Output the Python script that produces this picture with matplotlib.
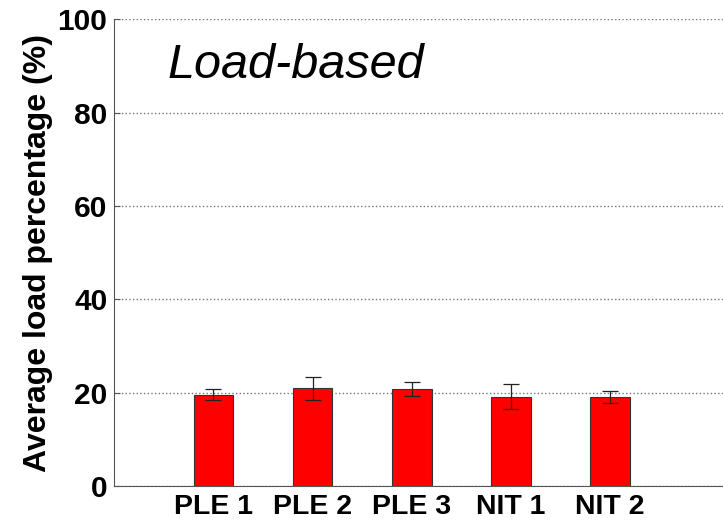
import numpy as np
import matplotlib.pyplot as plt

plt.rcParams['font.family'] = ['Liberation Sans', 'DejaVu Sans']

labels = ['PLE 1', 'PLE 2', 'PLE 3', 'NIT 1', 'NIT 2']
load_mean = [19.6, 20.9, 20.7, 19.1, 19.1]
load_err = [1.1, 2.4, 1.5, 2.7, 1.3]

fig = plt.figure(figsize=(7.23, 5.24), dpi=100)
ax = fig.add_axes([0.158, 0.0725, 0.842, 0.891])

ind = np.arange(1, len(labels) + 1)
ax.bar(ind, load_mean, 0.4, color='#ff0000', edgecolor='#333333', linewidth=0.8, zorder=3)
ax.errorbar(ind, load_mean, yerr=load_err, fmt='none', ecolor='#222222',
            elinewidth=0.9, capsize=6, capthick=0.9, zorder=4)

ax.set_xlim(0, 6.14)
ax.set_ylim(0, 100)
ax.set_yticks([0, 20, 40, 60, 80, 100])
ax.set_xticks(ind)
ax.set_xticklabels(labels, fontsize=20.5, fontweight='bold')
ax.tick_params(axis='y', labelsize=21.5, direction='in', length=4, pad=5, color='#555555')
ax.tick_params(axis='x', length=0, pad=6)
for t in ax.get_yticklabels():
    t.set_fontweight('bold')

ax.set_ylabel('Average load percentage (%)', fontsize=23, fontweight='bold', labelpad=3)
ax.grid(axis='y', linestyle=':', color='#777777', linewidth=1.0, zorder=0)

ax.spines['top'].set_visible(False)
ax.spines['right'].set_visible(False)
ax.spines['left'].set_color('#555555')
ax.spines['bottom'].set_color('#555555')

ax.text(0.54, 90, 'Load-based', fontsize=35, style='italic', va='center', ha='left')

fig.savefig('out.png', dpi=100)
